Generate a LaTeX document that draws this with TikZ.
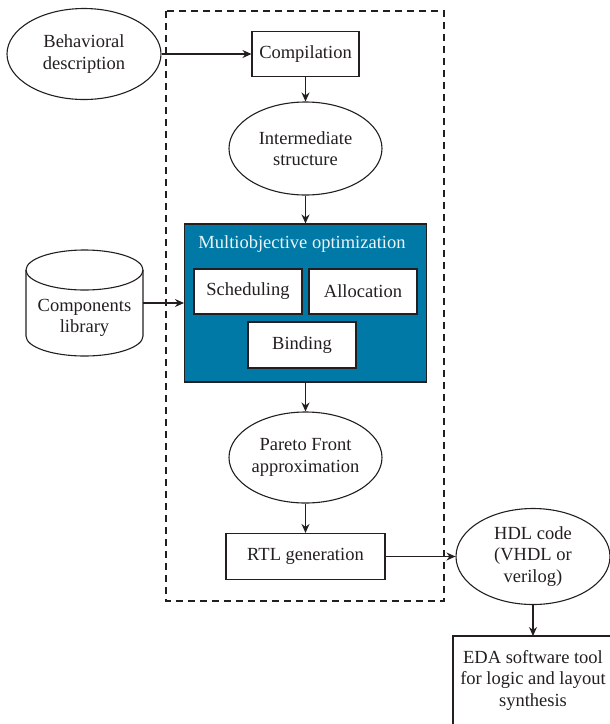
\documentclass[tikz,border=0pt]{standalone}
\usepackage{fontspec}
\setmainfont{Liberation Serif}
\usetikzlibrary{arrows.meta,shapes.geometric}
\definecolor{ink}{HTML}{231F20}
\definecolor{optblue}{HTML}{0079A6}
\tikzset{
  base/.style={draw=ink, line width=1.1pt, text=ink, inner sep=0pt, align=center,
    font=\fontsize{18.5}{21.5}\selectfont},
  procbox/.style={base, rectangle, fill=white},
  dataell/.style={base, ellipse},
  flow/.style={draw=ink, line width=1.1pt, -{Stealth[length=9pt,width=8pt]}},
}
\begin{document}
\begin{tikzpicture}[x=1pt,y=-1pt]
  \useasboundingbox (0,0) rectangle (610,724);

  % synthesis core boundary
  \draw[ink, line width=1.1pt, dash pattern=on 7pt off 5pt] (166,11) rectangle (444,601);

  % inputs
  \node[dataell, minimum width=154, minimum height=91] (beh) at (84,54) {Behavioral\\description};

  % component library (cylinder)
  \draw[ink, line width=1.1pt] (84.5,270) ellipse [x radius=58.5, y radius=20];
  \draw[ink, line width=1.1pt] (26,270) -- (26,336)
        arc [start angle=180, end angle=0, x radius=58.5, y radius=20] -- (143,270);
  \node[base, draw=none] (lib) at (84.5,318) {Components\\library};
  \coordinate (libout) at (143,303);

  % main flow
  \node[procbox, minimum width=107, minimum height=45] (comp) at (305.5,54) {Compilation};
  \node[dataell, minimum width=153, minimum height=93] (inter) at (305.5,148.5) {Intermediate\\structure};

  \node[base, rectangle, fill=optblue, minimum width=242, minimum height=158] (mo) at (305.5,303) {};
  \node[text=white!92!optblue, font=\fontsize{18.5}{21.5}\selectfont, anchor=base] (motitle) at (302,248) {Multiobjective optimization};
  \node[procbox, minimum width=108, minimum height=45] (sched) at (248,291.5) {Scheduling};
  \node[procbox, minimum width=108, minimum height=45] (alloc) at (363,291.5) {Allocation};
  \node[procbox, minimum width=108, minimum height=46] (bind) at (302,345) {Binding};

  \node[dataell, minimum width=153, minimum height=91] (pareto) at (305.5,457.5) {Pareto Front\\approximation};
  \node[procbox, minimum width=159, minimum height=46] (rtl) at (305.5,556.5) {RTL generation};

  % outputs
  \node[dataell, minimum width=154, minimum height=96] (hdl) at (533,556.5) {HDL code\\(VHDL or\\verilog)};
  \draw[ink, line width=1.1pt] (453,730) -- (453,636) -- (615,636);
  \node[base, draw=none] (eda) at (533,680) {EDA software tool\\for logic and layout\\synthesis};
  \coordinate (edatop) at (533,636);

  % connectors
  \draw[flow] (beh.east) -- (comp.west);
  \draw[flow] (comp.south) -- (inter.north);
  \draw[flow] (inter.south) -- (mo.north);
  \draw[flow] (libout) -- (mo.west |- libout);
  \draw[flow] (mo.south) -- (pareto.north);
  \draw[flow] (pareto.south) -- (rtl.north);
  \draw[flow] (rtl.east) -- (hdl.west);
  \draw[flow] (hdl.south) -- (edatop);
\end{tikzpicture}
\end{document}
